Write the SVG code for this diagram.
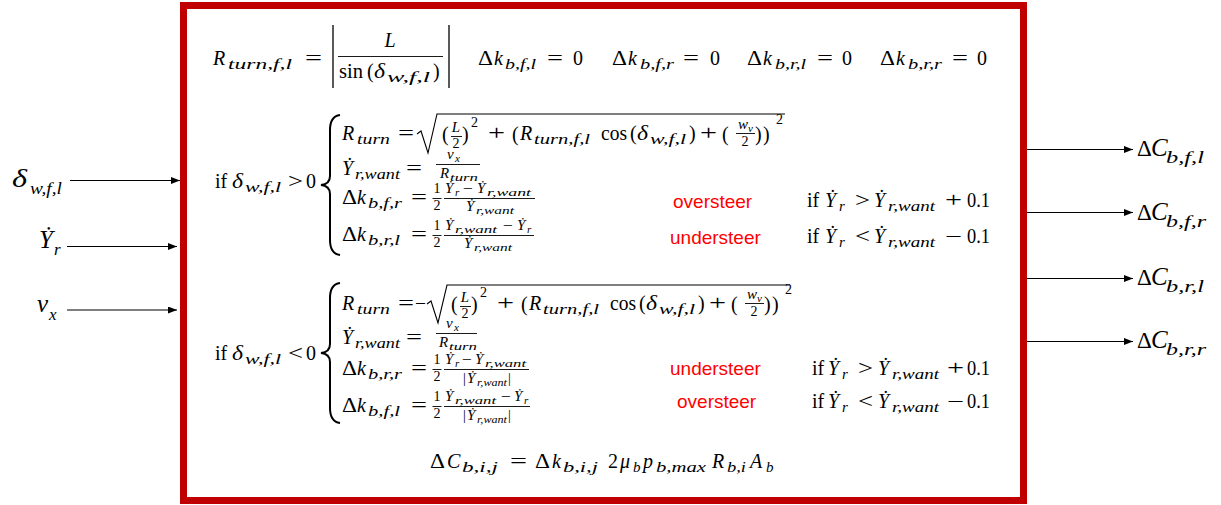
<svg xmlns="http://www.w3.org/2000/svg" width="1221" height="505" viewBox="0 0 1221 505">
<style>
.m{font-family:"Liberation Serif",serif;font-size:20px;fill:#000}
.mi{font-family:"Liberation Serif",serif;font-size:20px;font-style:italic;fill:#000}
.s{font-family:"Liberation Serif",serif;font-size:14px;fill:#000}
.si{font-family:"Liberation Serif",serif;font-size:15px;font-style:italic;fill:#000}
.ss{font-family:"Liberation Serif",serif;font-size:11px;fill:#000}
.ssi{font-family:"Liberation Serif",serif;font-size:11px;font-style:italic;fill:#000}
.c{text-anchor:middle}
.fb{stroke:#000;stroke-width:0.9}
.rad{stroke:#000;stroke-width:1.1;fill:none}
.brace{stroke:#000;stroke-width:2;fill:none}
.red{font-family:"Liberation Sans",Arial,sans-serif;font-size:19px;fill:#ff0000}
.lab{font-family:"Liberation Serif",serif;font-style:italic;font-size:25px;fill:#000}
.labu{font-family:"Liberation Serif",serif;font-size:23px;fill:#000}
.labs{font-family:"Liberation Serif",serif;font-style:italic;font-size:17px;fill:#000}
.conn line{stroke:#000;stroke-width:1.2;marker-end:url(#ah)}
</style>
<defs>
<marker id="ah" markerUnits="userSpaceOnUse" markerWidth="9" markerHeight="7" refX="9" refY="3.5" orient="auto">
<path d="M0,0 L9,3.5 L0,7 z" fill="#000"/>
</marker>
</defs>
<rect x="0" y="0" width="1221" height="505" fill="#fff"/>

<g id="block">
<rect x="183.5" y="5.5" width="840" height="495" fill="#fff" stroke="#C00000" stroke-width="7"/>
</g>

<g id="eq-top">
<text class="mi" x="213" y="65">R</text>
<text class="si" x="228" y="69" textLength="64" lengthAdjust="spacingAndGlyphs">turn,f,l</text>
<text class="m" x="305" y="65" textLength="17" lengthAdjust="spacingAndGlyphs">=</text>
<line x1="333" y1="25" x2="333" y2="88" stroke="#000" stroke-width="1.3"/>
<line x1="449" y1="25" x2="449" y2="88" stroke="#000" stroke-width="1.3"/>
<text class="mi c" x="390" y="47">L</text>
<line class="fb" x1="338" y1="56.5" x2="443" y2="56.5"/>
<text class="m" x="339" y="78" textLength="24" lengthAdjust="spacingAndGlyphs">sin</text>
<text class="m" x="367" y="78">(</text>
<text class="mi" x="374" y="78" textLength="11" lengthAdjust="spacingAndGlyphs">δ</text>
<text class="si" x="387" y="82" textLength="43" lengthAdjust="spacingAndGlyphs">w,f,l</text>
<text class="m" x="433" y="78">)</text>

<text class="m" x="478" y="65" textLength="15" lengthAdjust="spacingAndGlyphs">Δ</text>
<text class="mi" x="494" y="65">k</text>
<text class="si" x="505" y="69" textLength="31" lengthAdjust="spacingAndGlyphs">b,f,l</text>
<text class="m" x="547" y="65" textLength="16" lengthAdjust="spacingAndGlyphs">=</text>
<text class="m" x="573" y="65">0</text>

<text class="m" x="612" y="65" textLength="15" lengthAdjust="spacingAndGlyphs">Δ</text>
<text class="mi" x="628" y="65">k</text>
<text class="si" x="640" y="69" textLength="34" lengthAdjust="spacingAndGlyphs">b,f,r</text>
<text class="m" x="683" y="65" textLength="16" lengthAdjust="spacingAndGlyphs">=</text>
<text class="m" x="710" y="65">0</text>

<text class="m" x="747" y="65" textLength="15" lengthAdjust="spacingAndGlyphs">Δ</text>
<text class="mi" x="763" y="65">k</text>
<text class="si" x="775" y="69" textLength="31" lengthAdjust="spacingAndGlyphs">b,r,l</text>
<text class="m" x="817" y="65" textLength="16" lengthAdjust="spacingAndGlyphs">=</text>
<text class="m" x="842" y="65">0</text>

<text class="m" x="880" y="65" textLength="15" lengthAdjust="spacingAndGlyphs">Δ</text>
<text class="mi" x="896" y="65">k</text>
<text class="si" x="908" y="69" textLength="34" lengthAdjust="spacingAndGlyphs">b,r,r</text>
<text class="m" x="952" y="65" textLength="16" lengthAdjust="spacingAndGlyphs">=</text>
<text class="m" x="977" y="65">0</text>
</g>

<g id="case-positive">
<text class="m" x="215" y="188">if</text>
<text class="mi" x="232" y="188" textLength="11" lengthAdjust="spacingAndGlyphs">δ</text>
<text class="si" x="245" y="192" textLength="36" lengthAdjust="spacingAndGlyphs">w,f,l</text>
<text class="m" x="288" y="188" textLength="15" lengthAdjust="spacingAndGlyphs">&gt;</text>
<text class="m" x="306" y="188">0</text>
<path class="brace" d="M340,115 C333,116 330,121 330,130 L330,176 C330,182 326,184.5 321,185 C326,185.5 330,188 330,194 L330,240 C330,249 333,254 340,255"/>

<text class="mi" x="342" y="140">R</text>
<text class="si" x="357" y="144" textLength="33" lengthAdjust="spacingAndGlyphs">turn</text>
<text class="m" x="398" y="140" textLength="16" lengthAdjust="spacingAndGlyphs">=</text>
<path class="rad" d="M417,134 L421,131 L428,153 L437,114 L785,114"/>
<g>
<text class="m" x="442" y="141">(</text>
<text class="si c" x="456" y="132">L</text>
<line class="fb" x1="451" y1="136.5" x2="462" y2="136.5"/>
<text class="s c" x="456" y="148">2</text>
<text class="m" x="462" y="141">)</text>
<text class="s" x="471" y="127">2</text>
<text class="m" x="488" y="140" textLength="17" lengthAdjust="spacingAndGlyphs">+</text>
<text class="m" x="512" y="141">(</text>
<text class="mi" x="520" y="140">R</text>
<text class="si" x="534" y="144" textLength="56" lengthAdjust="spacingAndGlyphs">turn,f,l</text>
<text class="m" x="601" y="140" textLength="26" lengthAdjust="spacingAndGlyphs">cos</text>
<text class="m" x="630" y="140">(</text>
<text class="mi" x="637" y="140" textLength="11" lengthAdjust="spacingAndGlyphs">δ</text>
<text class="si" x="650" y="144" textLength="36" lengthAdjust="spacingAndGlyphs">w,f,l</text>
<text class="m" x="689" y="140">)</text>
<text class="m" x="700" y="140" textLength="17" lengthAdjust="spacingAndGlyphs">+</text>
<text class="m" x="722" y="141">(</text>
<text class="si" x="738" y="129">w</text>
<text class="ssi" x="748" y="132">v</text>
<line class="fb" x1="736" y1="133.5" x2="755" y2="133.5"/>
<text class="s c" x="745" y="146">2</text>
<text class="m" x="755" y="141">)</text>
<text class="m" x="763" y="141">)</text>
<text class="s" x="776" y="124">2</text>
</g>

<text class="mi" x="342" y="175">Ẏ</text>
<text class="si" x="355" y="179" textLength="45" lengthAdjust="spacingAndGlyphs">r,want</text>
<text class="m" x="406" y="175" textLength="16" lengthAdjust="spacingAndGlyphs">=</text>
<text class="si" x="447" y="159">v</text>
<text class="ssi" x="455" y="162">x</text>
<line class="fb" x1="436" y1="164.5" x2="480" y2="164.5"/>
<text class="si" x="440" y="178">R</text>
<text class="ssi" x="450" y="181" textLength="28" lengthAdjust="spacingAndGlyphs">turn</text>

<text class="m" x="342" y="204" textLength="15" lengthAdjust="spacingAndGlyphs">Δ</text>
<text class="mi" x="357" y="204">k</text>
<text class="si" x="368" y="208" textLength="34" lengthAdjust="spacingAndGlyphs">b,f,r</text>
<text class="m" x="411" y="204" textLength="16" lengthAdjust="spacingAndGlyphs">=</text>
<text class="s c" x="437" y="193">1</text>
<line class="fb" x1="432.5" y1="198.5" x2="441.5" y2="198.5"/>
<text class="s c" x="437" y="210">2</text>
<text class="si" x="445" y="193">Ẏ</text>
<text class="ssi" x="455" y="196">r</text>
<text class="s" x="463" y="193" textLength="10" lengthAdjust="spacingAndGlyphs">−</text>
<text class="si" x="477" y="193">Ẏ</text>
<text class="ssi" x="487" y="196" textLength="44" lengthAdjust="spacingAndGlyphs">r,want</text>
<line class="fb" x1="444" y1="198.5" x2="535" y2="198.5"/>
<text class="si" x="466" y="211">Ẏ</text>
<text class="ssi" x="476" y="214" textLength="38" lengthAdjust="spacingAndGlyphs">r,want</text>

<text class="m" x="342" y="241" textLength="15" lengthAdjust="spacingAndGlyphs">Δ</text>
<text class="mi" x="357" y="241">k</text>
<text class="si" x="368" y="245" textLength="32" lengthAdjust="spacingAndGlyphs">b,r,l</text>
<text class="m" x="411" y="241" textLength="16" lengthAdjust="spacingAndGlyphs">=</text>
<text class="s c" x="437" y="230">1</text>
<line class="fb" x1="432.5" y1="235.5" x2="441.5" y2="235.5"/>
<text class="s c" x="437" y="247">2</text>
<text class="si" x="445" y="230">Ẏ</text>
<text class="ssi" x="455" y="233" textLength="42" lengthAdjust="spacingAndGlyphs">r,want</text>
<text class="s" x="503" y="230" textLength="10" lengthAdjust="spacingAndGlyphs">−</text>
<text class="si" x="517" y="230">Ẏ</text>
<text class="ssi" x="527" y="233">r</text>
<line class="fb" x1="444" y1="235.5" x2="534" y2="235.5"/>
<text class="si" x="464" y="248">Ẏ</text>
<text class="ssi" x="474" y="251" textLength="38" lengthAdjust="spacingAndGlyphs">r,want</text>

<text class="red" x="673" y="208">oversteer</text>
<text class="red" x="670" y="244">understeer</text>

<text class="m" x="807" y="207">if</text>
<text class="mi" x="825" y="207">Ẏ</text>
<text class="si" x="839" y="211">r</text>
<text class="m" x="855" y="207" textLength="15" lengthAdjust="spacingAndGlyphs">&gt;</text>
<text class="mi" x="874" y="207">Ẏ</text>
<text class="si" x="888" y="211" textLength="47" lengthAdjust="spacingAndGlyphs">r,want</text>
<text class="m" x="945" y="207" textLength="17" lengthAdjust="spacingAndGlyphs">+</text>
<text class="m" x="967" y="207" textLength="23" lengthAdjust="spacingAndGlyphs">0.1</text>

<text class="m" x="807" y="243">if</text>
<text class="mi" x="825" y="243">Ẏ</text>
<text class="si" x="839" y="247">r</text>
<text class="m" x="855" y="243" textLength="15" lengthAdjust="spacingAndGlyphs">&lt;</text>
<text class="mi" x="874" y="243">Ẏ</text>
<text class="si" x="888" y="247" textLength="47" lengthAdjust="spacingAndGlyphs">r,want</text>
<text class="m" x="945" y="243" textLength="17" lengthAdjust="spacingAndGlyphs">−</text>
<text class="m" x="967" y="243" textLength="23" lengthAdjust="spacingAndGlyphs">0.1</text>
</g>

<g id="case-negative">
<text class="m" x="215" y="360">if</text>
<text class="mi" x="232" y="360" textLength="11" lengthAdjust="spacingAndGlyphs">δ</text>
<text class="si" x="245" y="364" textLength="36" lengthAdjust="spacingAndGlyphs">w,f,l</text>
<text class="m" x="288" y="360" textLength="15" lengthAdjust="spacingAndGlyphs">&lt;</text>
<text class="m" x="306" y="360">0</text>
<path class="brace" d="M340,283 C333,284 330,289 330,298 L330,344 C330,350 326,352.5 321,353 C326,353.5 330,356 330,362 L330,408 C330,417 333,422 340,423"/>

<text class="mi" x="342" y="310">R</text>
<text class="si" x="357" y="314" textLength="33" lengthAdjust="spacingAndGlyphs">turn</text>
<text class="m" x="398" y="310" textLength="16" lengthAdjust="spacingAndGlyphs">=</text>
<text class="m" x="415" y="310" textLength="11" lengthAdjust="spacingAndGlyphs">−</text>
<path class="rad" d="M427,304 L431,301 L438,323 L447,285 L790,285"/>
<g transform="translate(9,170)">
<text class="m" x="442" y="141">(</text>
<text class="si c" x="456" y="132">L</text>
<line class="fb" x1="451" y1="136.5" x2="462" y2="136.5"/>
<text class="s c" x="456" y="148">2</text>
<text class="m" x="462" y="141">)</text>
<text class="s" x="471" y="127">2</text>
<text class="m" x="488" y="140" textLength="17" lengthAdjust="spacingAndGlyphs">+</text>
<text class="m" x="512" y="141">(</text>
<text class="mi" x="520" y="140">R</text>
<text class="si" x="534" y="144" textLength="56" lengthAdjust="spacingAndGlyphs">turn,f,l</text>
<text class="m" x="601" y="140" textLength="26" lengthAdjust="spacingAndGlyphs">cos</text>
<text class="m" x="630" y="140">(</text>
<text class="mi" x="637" y="140" textLength="11" lengthAdjust="spacingAndGlyphs">δ</text>
<text class="si" x="650" y="144" textLength="36" lengthAdjust="spacingAndGlyphs">w,f,l</text>
<text class="m" x="689" y="140">)</text>
<text class="m" x="700" y="140" textLength="17" lengthAdjust="spacingAndGlyphs">+</text>
<text class="m" x="722" y="141">(</text>
<text class="si" x="738" y="129">w</text>
<text class="ssi" x="748" y="132">v</text>
<line class="fb" x1="736" y1="133.5" x2="755" y2="133.5"/>
<text class="s c" x="745" y="146">2</text>
<text class="m" x="755" y="141">)</text>
<text class="m" x="763" y="141">)</text>
<text class="s" x="776" y="124">2</text>
</g>

<text class="mi" x="342" y="344">Ẏ</text>
<text class="si" x="355" y="348" textLength="45" lengthAdjust="spacingAndGlyphs">r,want</text>
<text class="m" x="406" y="344" textLength="16" lengthAdjust="spacingAndGlyphs">=</text>
<text class="si" x="446" y="328">v</text>
<text class="ssi" x="454" y="331">x</text>
<line class="fb" x1="436" y1="333.5" x2="477" y2="333.5"/>
<text class="si" x="439" y="347">R</text>
<text class="ssi" x="449" y="350" textLength="28" lengthAdjust="spacingAndGlyphs">turn</text>

<text class="m" x="342" y="375" textLength="15" lengthAdjust="spacingAndGlyphs">Δ</text>
<text class="mi" x="357" y="375">k</text>
<text class="si" x="368" y="379" textLength="34" lengthAdjust="spacingAndGlyphs">b,r,r</text>
<text class="m" x="411" y="375" textLength="16" lengthAdjust="spacingAndGlyphs">=</text>
<text class="s c" x="437" y="364">1</text>
<line class="fb" x1="432.5" y1="369.5" x2="441.5" y2="369.5"/>
<text class="s c" x="437" y="381">2</text>
<text class="si" x="445" y="364">Ẏ</text>
<text class="ssi" x="455" y="367">r</text>
<text class="s" x="462" y="364" textLength="10" lengthAdjust="spacingAndGlyphs">−</text>
<text class="si" x="475" y="364">Ẏ</text>
<text class="ssi" x="485" y="367" textLength="41" lengthAdjust="spacingAndGlyphs">r,want</text>
<line class="fb" x1="444" y1="369.5" x2="529" y2="369.5"/>
<text class="s" x="463" y="383">|</text>
<text class="si" x="467" y="383">Ẏ</text>
<text class="ssi" x="477" y="386" textLength="30" lengthAdjust="spacingAndGlyphs">r,want</text>
<text class="s" x="508" y="383">|</text>

<text class="m" x="342" y="412" textLength="15" lengthAdjust="spacingAndGlyphs">Δ</text>
<text class="mi" x="357" y="412">k</text>
<text class="si" x="368" y="416" textLength="32" lengthAdjust="spacingAndGlyphs">b,f,l</text>
<text class="m" x="411" y="412" textLength="16" lengthAdjust="spacingAndGlyphs">=</text>
<text class="s c" x="437" y="401">1</text>
<line class="fb" x1="432.5" y1="406.5" x2="441.5" y2="406.5"/>
<text class="s c" x="437" y="418">2</text>
<text class="si" x="445" y="401">Ẏ</text>
<text class="ssi" x="455" y="404" textLength="41" lengthAdjust="spacingAndGlyphs">r,want</text>
<text class="s" x="501" y="401" textLength="10" lengthAdjust="spacingAndGlyphs">−</text>
<text class="si" x="514" y="401">Ẏ</text>
<text class="ssi" x="524" y="404">r</text>
<line class="fb" x1="444" y1="406.5" x2="530" y2="406.5"/>
<text class="s" x="463" y="420">|</text>
<text class="si" x="467" y="420">Ẏ</text>
<text class="ssi" x="477" y="423" textLength="30" lengthAdjust="spacingAndGlyphs">r,want</text>
<text class="s" x="508" y="420">|</text>

<text class="red" x="670" y="375">understeer</text>
<text class="red" x="677" y="408">oversteer</text>

<text class="m" x="812" y="375">if</text>
<text class="mi" x="828" y="375">Ẏ</text>
<text class="si" x="842" y="379">r</text>
<text class="m" x="858" y="375" textLength="15" lengthAdjust="spacingAndGlyphs">&gt;</text>
<text class="mi" x="878" y="375">Ẏ</text>
<text class="si" x="892" y="379" textLength="47" lengthAdjust="spacingAndGlyphs">r,want</text>
<text class="m" x="947" y="375" textLength="17" lengthAdjust="spacingAndGlyphs">+</text>
<text class="m" x="967" y="375" textLength="23" lengthAdjust="spacingAndGlyphs">0.1</text>

<text class="m" x="812" y="408">if</text>
<text class="mi" x="828" y="408">Ẏ</text>
<text class="si" x="842" y="412">r</text>
<text class="m" x="858" y="408" textLength="15" lengthAdjust="spacingAndGlyphs">&lt;</text>
<text class="mi" x="878" y="408">Ẏ</text>
<text class="si" x="892" y="412" textLength="47" lengthAdjust="spacingAndGlyphs">r,want</text>
<text class="m" x="947" y="408" textLength="17" lengthAdjust="spacingAndGlyphs">−</text>
<text class="m" x="967" y="408" textLength="23" lengthAdjust="spacingAndGlyphs">0.1</text>
</g>

<g id="eq-bottom">
<text class="m" x="430" y="468" textLength="15" lengthAdjust="spacingAndGlyphs">Δ</text>
<text class="mi" x="447" y="468">C</text>
<text class="si" x="462" y="472" textLength="36" lengthAdjust="spacingAndGlyphs">b,i,j</text>
<text class="m" x="510" y="468" textLength="17" lengthAdjust="spacingAndGlyphs">=</text>
<text class="m" x="535" y="468" textLength="15" lengthAdjust="spacingAndGlyphs">Δ</text>
<text class="mi" x="552" y="468">k</text>
<text class="si" x="563" y="472" textLength="35" lengthAdjust="spacingAndGlyphs">b,i,j</text>
<text class="m" x="608" y="468">2</text>
<text class="mi" x="620" y="468">μ</text>
<text class="si" x="633" y="472">b</text>
<text class="mi" x="643" y="468">p</text>
<text class="si" x="656" y="472" textLength="50" lengthAdjust="spacingAndGlyphs">b,max</text>
<text class="mi" x="712" y="468">R</text>
<text class="si" x="727" y="472" textLength="19" lengthAdjust="spacingAndGlyphs">b,i</text>
<text class="mi" x="750" y="468">A</text>
<text class="si" x="766" y="472">b</text>
</g>

<g id="in-delta">
<text class="lab" x="12" y="187" textLength="15" lengthAdjust="spacingAndGlyphs">δ</text>
<text class="labs" x="30" y="194" textLength="32" lengthAdjust="spacingAndGlyphs">w,f,l</text>
</g>
<g id="in-yawrate">
<text class="lab" x="39" y="248">Ẏ</text>
<text class="labs" x="54" y="255">r</text>
</g>
<g id="in-vx">
<text class="lab" x="37" y="312">v</text>
<text class="labs" x="49" y="320">x</text>
</g>

<g id="out-fl">
<text class="labu" x="1137" y="156">Δ</text>
<text class="lab" x="1151" y="156">C</text>
<text class="labs" x="1166" y="163" textLength="38" lengthAdjust="spacingAndGlyphs">b,f,l</text>
</g>
<g id="out-fr">
<text class="labu" x="1137" y="220">Δ</text>
<text class="lab" x="1151" y="220">C</text>
<text class="labs" x="1166" y="227" textLength="40" lengthAdjust="spacingAndGlyphs">b,f,r</text>
</g>
<g id="out-rl">
<text class="labu" x="1137" y="285">Δ</text>
<text class="lab" x="1151" y="285">C</text>
<text class="labs" x="1166" y="292" textLength="38" lengthAdjust="spacingAndGlyphs">b,r,l</text>
</g>
<g id="out-rr">
<text class="labu" x="1137" y="348">Δ</text>
<text class="lab" x="1151" y="348">C</text>
<text class="labs" x="1166" y="355" textLength="40" lengthAdjust="spacingAndGlyphs">b,r,r</text>
</g>

<g id="connectors" class="conn">
<line x1="70" y1="180.5" x2="180" y2="180.5"/>
<line x1="67" y1="246.5" x2="177" y2="246.5"/>
<line x1="67" y1="310" x2="177" y2="310"/>
<line x1="1027" y1="149.5" x2="1133" y2="149.5"/>
<line x1="1027" y1="212.5" x2="1133" y2="212.5"/>
<line x1="1027" y1="278.5" x2="1133" y2="278.5"/>
<line x1="1027" y1="341.5" x2="1133" y2="341.5"/>
</g>
</svg>
